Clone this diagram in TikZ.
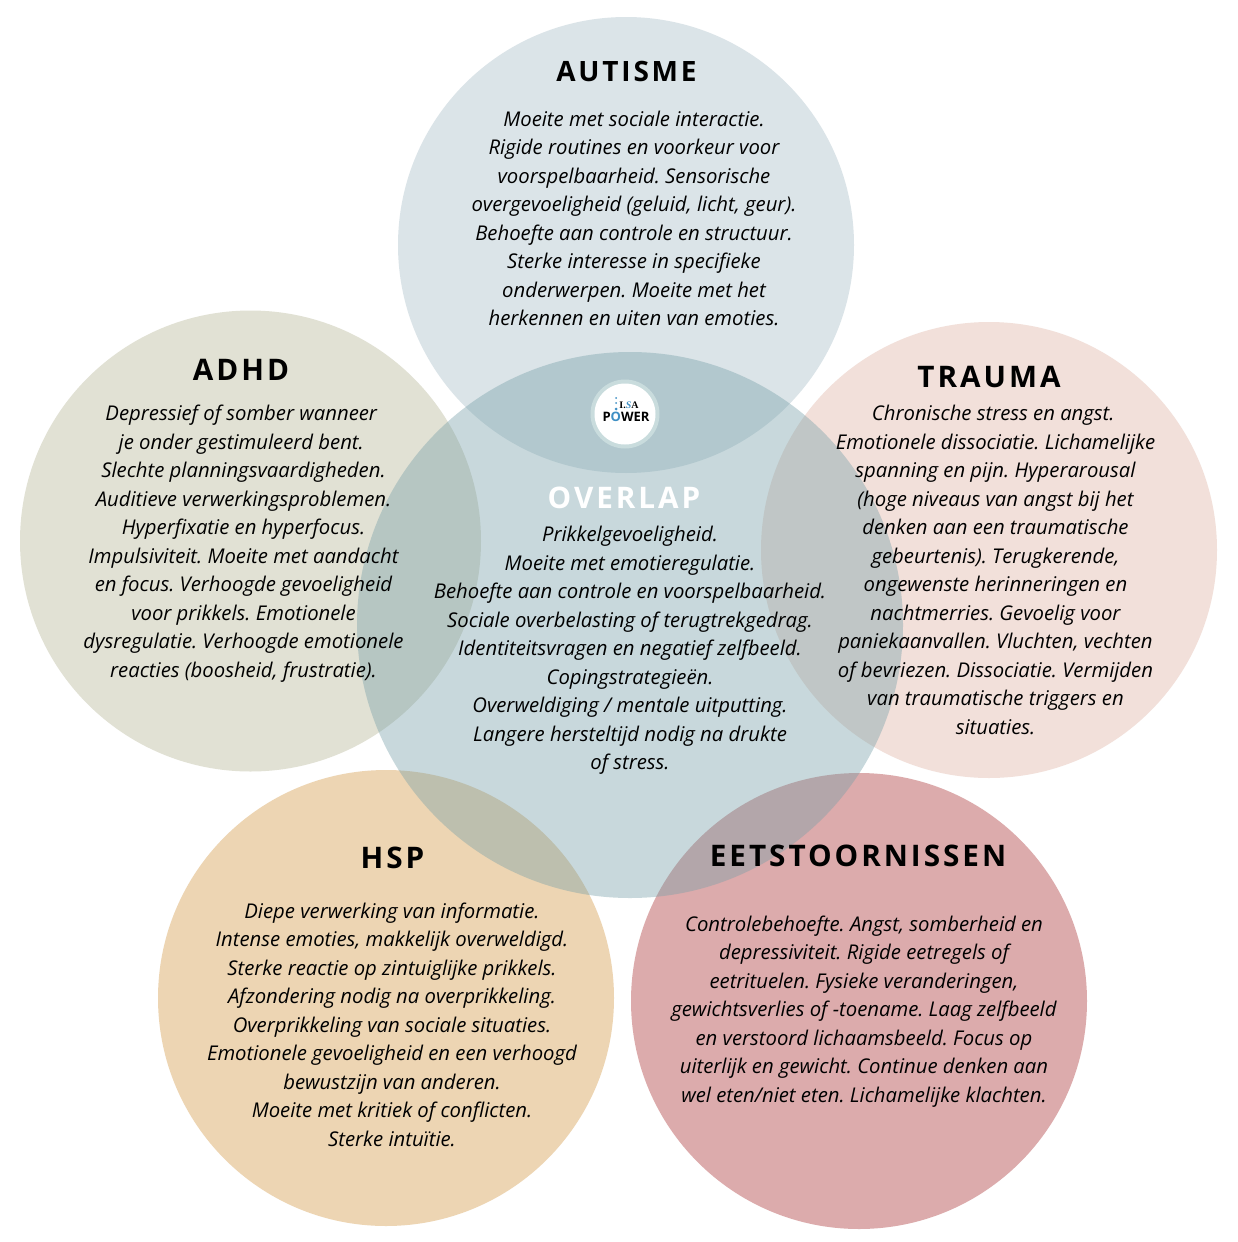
\documentclass[tikz,border=0pt]{standalone}
\usepackage{fontspec}
\setmainfont{Open Sans}
\newfontfamily\titlefont[LetterSpace=10]{Open Sans}
\newfontfamily\logofont{Liberation Serif}
\frenchspacing
\usetikzlibrary{positioning}
\definecolor{autismefill}{HTML}{DBE4E8}
\definecolor{adhdfill}{HTML}{E1E1D4}
\definecolor{traumafill}{HTML}{F2E0DA}
\definecolor{hspfill}{HTML}{EDD5B3}
\definecolor{eetfill}{HTML}{DCABAC}
\definecolor{overlapfill}{HTML}{769FA8}
\definecolor{logoring}{HTML}{C9DCDD}
\definecolor{logoblue}{HTML}{3E8FC4}
\tikzset{
  blob/.style={circle,inner sep=0pt,minimum size=456pt},
  title/.style={font=\titlefont\fontsize{29.7}{33}\selectfont\bfseries,text=black,inner sep=0pt},
  body/.style={font=\fontsize{20.3}{28.5}\selectfont\itshape,text=black,align=center,inner sep=0pt},
  dot/.style={circle,fill=logoblue,inner sep=0pt}
}
\begin{document}
\begin{tikzpicture}[x=1pt,y=-1pt]
\useasboundingbox (0,0) rectangle (1238,1242);
\fill[white] (0,0) rectangle (1238,1242);
% circles
\node[blob,fill=autismefill] (autisme) at (626,245) {};
\node[blob,fill=adhdfill,minimum size=461pt] (adhd) at (250.5,541) {};
\node[blob,fill=traumafill] (trauma) at (989,550) {};
\node[blob,fill=hspfill] (hsp) at (386,998) {};
\node[blob,fill=eetfill] (eet) at (859,1001) {};
\node[blob,fill=overlapfill,fill opacity=0.4,minimum size=546pt] (overlap) at (630,625) {};
% logo
\node[circle,fill=logoring,inner sep=0pt,minimum size=69pt] (ring) at (625,414) {};
\node[circle,fill=white,inner sep=0pt,minimum size=61pt] (logo) at (ring) {};
\node[font=\fontsize{13}{13}\selectfont\bfseries,inner sep=0pt] (power) at (626,417) {P\textcolor{logoblue}{O}WER};
\node[font=\logofont\fontsize{10}{10}\selectfont\bfseries,inner sep=0pt] (lsa) at (629,405) {I.\textcolor{logoblue}{\itshape S}A};
\node[dot,minimum size=2pt] (dota) at (616,398) {};
\node[dot,minimum size=2pt] (dotb) at (616,403) {};
\node[dot,minimum size=3pt] (dotc) at (616,409) {};
% titles
\node[title,font=\titlefont\fontsize{28}{33}\selectfont\bfseries] (autismetitle) at (626.5,71.5) {AUTISME};
\node[title] (adhdtitle) at (241,370) {ADHD};
\node[title] (traumatitle) at (989,377) {TRAUMA};
\node[title,text=white] (overlaptitle) at (624,498) {OVERLAP};
\node[title] (hsptitle) at (392.5,858) {HSP};
\node[title] (eettitle) at (858,856) {EETSTOORNISSEN};
% texts
\node[body,anchor=north] (autismetext) at (634,110.5) {Moeite met sociale interactie.\\Rigide routines en voorkeur voor\\voorspelbaarheid. Sensorische\\overgevoeligheid (geluid, licht, geur).\\Behoefte aan controle en structuur.\\Sterke interesse in specifieke\\onderwerpen. Moeite met het\\herkennen en uiten van emoties.};
\node[body,anchor=north] (adhdtext) at (243.5,405) {Depressief of somber wanneer\kern4.5pt\\je onder gestimuleerd bent.\kern4.5pt\\Slechte planningsvaardigheden.\\Auditieve verwerkingsproblemen.\\Hyperfixatie en hyperfocus.\\Impulsiviteit. Moeite met aandacht\\en focus. Verhoogde gevoeligheid\\voor prikkels. Emotionele\\dysregulatie. Verhoogde emotionele\\reacties (boosheid, frustratie).};
\node[body,anchor=north] (traumatext) at (995.5,405) {Chronische stress en angst.\kern4.5pt\\Emotionele dissociatie. Lichamelijke\\spanning en pijn. Hyperarousal\\(hoge niveaus van angst bij het\\denken aan een traumatische\\gebeurtenis). Terugkerende,\\ongewenste herinneringen en\\nachtmerries. Gevoelig voor\\paniekaanvallen. Vluchten, vechten\\of bevriezen. Dissociatie. Vermijden\\van traumatische triggers en\\situaties.};
\node[body,anchor=north] (overlaptext) at (630,526) {Prikkelgevoeligheid.\\Moeite met emotieregulatie.\\Behoefte aan controle en voorspelbaarheid.\\Sociale overbelasting of terugtrekgedrag.\\Identiteitsvragen en negatief zelfbeeld.\\Copingstrategieën.\\Overweldiging / mentale uitputting.\\Langere hersteltijd nodig na drukte\\of stress.};
\node[body,anchor=north] (hsptext) at (392,902.5) {Diepe verwerking van informatie.\\Intense emoties, makkelijk overweldigd.\\Sterke reactie op zintuiglijke prikkels.\\Afzondering nodig na overprikkeling.\\Overprikkeling van sociale situaties.\\Emotionele gevoeligheid en een verhoogd\\bewustzijn van anderen.\\Moeite met kritiek of conflicten.\\Sterke intuïtie.};
\node[body,anchor=north] (eettext) at (864,915.5) {Controlebehoefte. Angst, somberheid en\\depressiviteit. Rigide eetregels of\\eetrituelen. Fysieke veranderingen,\\gewichtsverlies of -toename. Laag zelfbeeld\\en verstoord lichaamsbeeld. Focus op\\uiterlijk en gewicht. Continue denken aan\\wel eten/niet eten. Lichamelijke klachten.};
\end{tikzpicture}
\end{document}
